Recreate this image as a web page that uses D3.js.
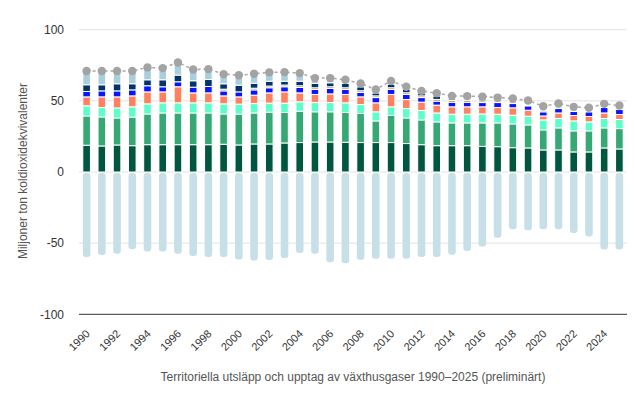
<!DOCTYPE html>
<html><head><meta charset="utf-8">
<script src="https://cdn.jsdelivr.net/npm/d3@7"></script>
<style>
html,body{margin:0;padding:0;background:#fff;}
svg{display:block;font-family:"Liberation Sans",Arial,sans-serif;}
</style></head>
<body>
<svg id="chart" width="635" height="400"></svg>
<script>
const years = d3.range(1990, 2026).map(String);
const tickYears = years.filter((y,i)=>i%2===0);
const yTicks = [-100,-50,0,50,100];

const darkGreen = [18.8,18.3,19.0,18.5,19.2,19.2,19.2,19.2,19.2,19.5,19.0,19.7,19.7,20.4,20.7,21.1,21.1,20.9,20.7,20.7,20.7,20.0,19.2,18.5,18.5,18.5,18.0,17.8,17.1,16.9,15.5,15.5,14.1,14.1,16.9,16.2];
const midGreen  = [20.6,20.4,19.0,20.0,21.6,22.3,22.3,22.3,22.3,21.3,21.6,21.8,22.3,21.4,22.0,21.2,21.2,20.9,20.4,15.2,19.0,18.0,17.4,16.7,16.0,16.0,16.5,16.7,16.7,16.2,14.1,15.5,14.8,14.8,14.1,14.3];
const mint      = [7.1,6.6,7.0,7.3,7.1,7.1,7.1,7.1,7.1,7.1,7.1,6.6,6.4,6.6,6.6,6.5,6.5,6.8,6.3,6.4,6.1,6.6,6.6,6.3,6.1,6.1,6.3,6.1,6.1,6.1,7.0,6.6,7.0,6.3,6.6,6.4];
const orange    = [6.3,7.5,7.8,7.7,8.4,7.7,11.3,7.0,7.0,5.6,5.1,5.9,7.2,7.9,6.3,5.7,6.1,5.9,5.4,6.3,8.7,6.3,5.9,5.5,5.2,5.2,5.0,4.7,5.2,4.2,2.8,3.9,3.8,3.8,3.9,3.5];
const blue      = [3.8,4.2,4.2,4.2,4.3,3.6,3.5,4.0,4.5,3.5,3.5,3.7,3.6,3.6,3.8,3.5,3.8,3.5,3.1,3.7,3.5,3.6,3.2,2.8,3.2,3.2,3.0,3.5,3.0,3.1,2.9,3.1,2.8,3.3,3.8,3.5];
const brown     = [0,0,0,0,0,0,0,0,0,1.2,0,1.2,1.2,1.2,1.2,1.2,1.2,1.2,1.2,1.2,1.2,1.2,1.2,1.2,1.2,1.2,1.2,1.2,1.2,0.6,0.9,0.9,0,0,0,0];
const navy      = [4.7,4.3,5.0,4.3,4.2,4.9,4.7,4.5,4.9,3.8,4.7,3.5,3.4,2.7,3.2,3.0,2.8,3.0,2.8,2.1,2.5,2.3,2.1,2.5,1.2,1.0,1.4,0.9,0.5,0.7,0.8,0.7,1.0,0.7,0.7,0.7];
const lightBlue = [9.7,9.7,9.0,9.0,8.7,8.2,8.9,7.9,7.3,6.8,7.0,6.6,6.2,6.4,5.7,3.8,3.3,2.6,2.3,2.4,2.3,1.9,1.4,1.9,2.1,2.1,1.6,1.4,1.8,2.4,2.2,1.9,2.3,2.1,1.9,2.1];
const uptake    = [-59.8,-58.4,-57.5,-54.2,-55.8,-55.8,-57.5,-59.1,-59.8,-59.8,-61.5,-62.2,-61.8,-60.5,-57.0,-57.5,-63.4,-64.1,-61.7,-61.0,-61.0,-61.0,-59.8,-59.8,-58.2,-55.6,-52.3,-46.2,-40.3,-41.0,-40.3,-40.3,-42.9,-45.3,-54.4,-54.4];

const seriesDefs = [
  {key:"darkGreen", values:darkGreen, color:"#00563F"},
  {key:"midGreen", values:midGreen, color:"#36A874"},
  {key:"mint", values:mint, color:"#5CFFC9"},
  {key:"orange", values:orange, color:"#FF8160"},
  {key:"blue", values:blue, color:"#0B14FF"},
  {key:"brown", values:brown, color:"#A8802A"},
  {key:"navy", values:navy, color:"#013468"},
  {key:"lightBlue", values:lightBlue, color:"#A9CEDE"}
];

const table = years.map((y,i)=>{
  const o = {year:y};
  seriesDefs.forEach(s=>o[s.key]=s.values[i]);
  return o;
});

const svg = d3.select("#chart");
const mLeft = 79, mRight = 627, mTop = 29.7, mBottom = 314.3;

const x = d3.scaleBand().domain(years).range([mLeft,mRight]).paddingInner(0.5).paddingOuter(0.25);
const y = d3.scaleLinear().domain([-100,100]).range([mBottom,mTop]);

// gridlines
svg.append("g").selectAll("line").data(yTicks.filter(d=>d!==-100)).join("line")
  .attr("x1",mLeft).attr("x2",mRight)
  .attr("y1",d=>y(d)).attr("y2",d=>y(d))
  .attr("stroke","#e3e3e3").attr("stroke-width",1);

// y axis labels
const yAxis = d3.axisLeft(y).tickValues(yTicks).tickSize(0).tickPadding(0).tickFormat(d=>String(d));
const gy = svg.append("g").attr("transform",`translate(${mLeft-15},0)`).call(yAxis);
gy.select(".domain").remove();
gy.selectAll("text").attr("font-size","12px").attr("fill","#333").attr("font-family","Liberation Sans, Arial, sans-serif");

// negative bars
const bw = x.bandwidth();
svg.append("g").selectAll("path").data(years).join("path")
  .attr("fill","#C7DFE7")
  .attr("d",(d,i)=>{
    const x0 = x(d), w = bw, y0 = y(0)+1, y1 = y(uptake[i]);
    const r = 3;
    return `M${x0},${y0+r}Q${x0},${y0} ${x0+r},${y0}L${x0+w-r},${y0}Q${x0+w},${y0} ${x0+w},${y0+r}L${x0+w},${y1-r}Q${x0+w},${y1} ${x0+w-r},${y1}L${x0+r},${y1}Q${x0},${y1} ${x0},${y1-r}Z`;
  });

// stacked positive bars
const stack = d3.stack().keys(seriesDefs.map(s=>s.key));
const stacked = stack(table);
svg.append("g").selectAll("g").data(stacked).join("g")
  .attr("fill",(d,i)=>seriesDefs[i].color)
  .selectAll("rect").data(d=>d.filter(p=>p[1]-p[0]>0)).join("rect")
  .attr("x",d=>x(d.data.year))
  .attr("width",bw)
  .attr("y",d=>y(d[1]))
  .attr("height",d=>Math.max(0,y(d[0])-y(d[1])))
  .attr("stroke","#fff").attr("stroke-width",1);

// totals
const totals = table.map((d,i)=>({year:d.year, v:d3.sum(seriesDefs, s=>s.values[i])}));
svg.append("path").datum(totals)
  .attr("fill","none").attr("stroke","#a8a8a8").attr("stroke-width",1.5)
  .attr("stroke-dasharray","3,3")
  .attr("d",d3.line().x(d=>x(d.year)+bw/2).y(d=>y(d.v)));
svg.append("g").selectAll("circle").data(totals).join("circle")
  .attr("cx",d=>x(d.year)+bw/2).attr("cy",d=>y(d.v)).attr("r",4.2)
  .attr("fill","#a3a3a3");

// x axis line
svg.append("line").attr("x1",mLeft).attr("x2",mRight).attr("y1",y(-100)).attr("y2",y(-100))
  .attr("stroke","#333").attr("stroke-width",1);

// x labels
const xAxis = d3.axisBottom(x).tickValues(tickYears).tickSize(0).tickPadding(0);
const gx = svg.append("g").attr("transform",`translate(0,${y(-100)})`).call(xAxis);
gx.select(".domain").remove();
gx.selectAll("text")
  .attr("font-size","11px").attr("fill","#333").attr("font-family","Liberation Sans, Arial, sans-serif")
  .attr("text-anchor","end").attr("dy",null).attr("y",null)
  .attr("transform","translate(4,20) rotate(-45)");

// axis titles
svg.append("text").attr("x",(mLeft+mRight)/2).attr("y",381)
  .attr("text-anchor","middle").attr("font-size","12px").attr("fill","#555")
  .text("Territoriella utsläpp och upptag av växthusgaser 1990–2025 (preliminärt)");
svg.append("text").attr("transform","translate(27,171) rotate(-90)")
  .attr("text-anchor","middle").attr("font-size","12px").attr("fill","#555")
  .text("Miljoner ton koldioxidekvivalenter");
</script>
</body></html>
